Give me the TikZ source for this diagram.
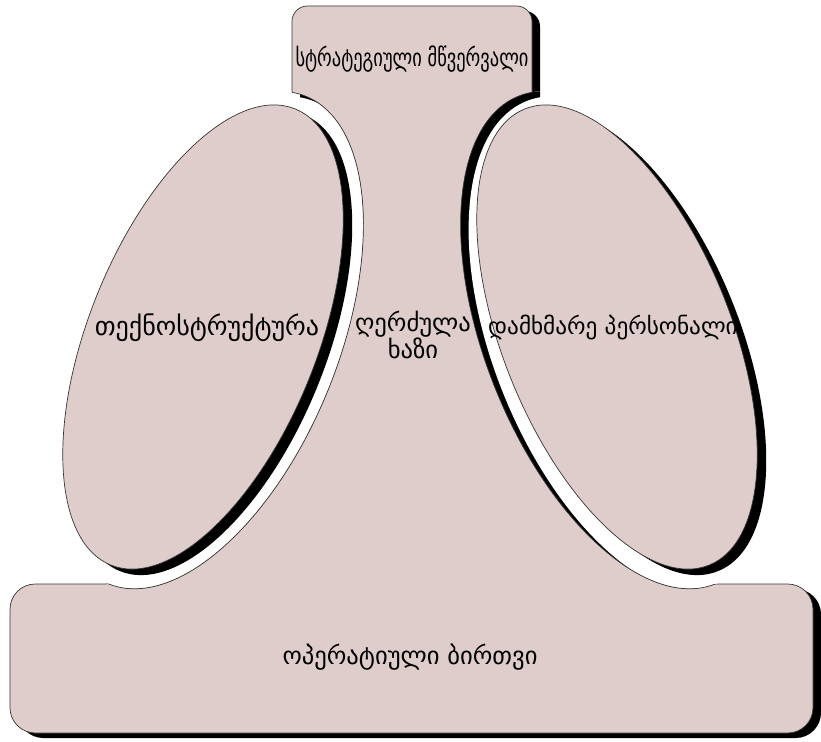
\documentclass[tikz,border=0pt]{standalone}
\usepackage{fontspec}
\usepackage{xcolor}
\usepackage{graphicx}
\newfontfamily\geofont{DejaVu Sans}
\definecolor{partpink}{RGB}{222, 205, 203}
\definecolor{partline}{RGB}{55, 55, 55}
\tikzset{
  partfill/.style   = {fill=partpink, draw=partline, line width=0.5pt},
  partshadow/.style = {fill=black},
  gapfill/.style    = {fill=white},
  cutline/.style    = {draw=partline, line width=0.5pt},
  partlabel/.style  = {font=\geofont\fontsize{17.5}{17.5}\selectfont, align=center, inner sep=1pt},
}
% apex + middle line + operating core as one outline
\newcommand{\apexcore}{(292,100) -- (292,60) [rounded corners=11pt] -- (292,6) -- (532,6) -- (532,60) [sharp corners] -- (532,100) -- (690,584) [rounded corners=18pt] -- (813,584) -- (813,733) -- (10,733) -- (10,584) -- (130,584) [sharp corners] -- cycle}
% white gaps round the two ellipses
\newcommand{\technocut}{{[rotate around={-22:(207,340)}] (207,340) ellipse (131 and 263)}}
\newcommand{\supportcut}{{[rotate around={22:(617,340)}] (617,340) ellipse (131 and 263)}}
% the two ellipses
\newcommand{\technoshape}{{[rotate around={-22:(203,337)}] (203,337) ellipse (114 and 246)}}
\newcommand{\supportshape}{{[rotate around={22:(617,337)}] (617,337) ellipse (114 and 246)}}

\begin{document}
\begin{tikzpicture}[x=0.025cm, y=-0.025cm]
\useasboundingbox (0,0) rectangle (821,742);

% ================= apex, middle line, core =================
\fill[partshadow, shift={(8,5)}] \apexcore;
\filldraw[partfill] \apexcore;

% ================= gaps =================
\begin{scope}
  \clip \technocut;
  \fill[gapfill] \technocut;
  \fill[partshadow, shift={(8,5)}] \apexcore;
  \fill[gapfill, shift={(8,5)}] \technocut;
\end{scope}
\begin{scope}
  \clip \supportcut;
  \fill[gapfill] \supportcut;
  \fill[partshadow, shift={(8,5)}] \apexcore;
  \fill[gapfill, shift={(8,5)}] \supportcut;
\end{scope}
\begin{scope}
  \clip \apexcore;
  \path[cutline] \technocut;
  \path[cutline] \supportcut;
\end{scope}

% ================= ellipses =================
\fill[partshadow, shift={(9,6)}] \technoshape;
\filldraw[partfill] \technoshape;
\fill[partshadow, shift={(9,6)}] \supportshape;
\filldraw[partfill] \supportshape;

% ================= labels =================
\node (apex)    [partlabel] at (412,59)  {\scalebox{0.75}[1]{სტრატეგიული მწვერვალი}};
\node (techno)  [partlabel, font=\geofont\fontsize{18.5}{18.5}\selectfont] at (207,328) {თექნოსტრუქტურა};
\node (midline) [partlabel] at (413,335) {ღერძულა\\ხაზი};
\node (support) [partlabel, font=\geofont\fontsize{16.5}{16.5}\selectfont] at (613,328) {დამხმარე პერსონალი};
\node (core)    [partlabel] at (410,657) {ოპერატიული ბირთვი};

\end{tikzpicture}
\end{document}
